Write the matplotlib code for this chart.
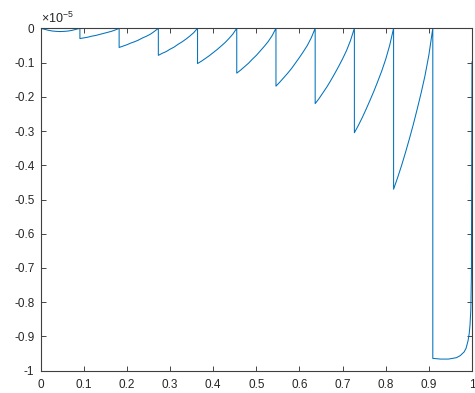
import numpy as np
import matplotlib
matplotlib.use("Agg")
import matplotlib.pyplot as plt

plt.rcParams['font.family'] = ['Liberation Sans', 'DejaVu Sans']
plt.rcParams['axes.unicode_minus'] = False
plt.rcParams['mathtext.fontset'] = 'custom'
plt.rcParams['mathtext.rm'] = 'Liberation Sans'

# error on each of the 11 sub-intervals, in units of 1e-5
knots = np.linspace(0, 1, 12)
t_std = [0, 0.1, 0.2, 0.3, 0.4, 0.5, 0.6, 0.7, 0.8, 0.9, 1.0]
t_last = [0, 0.2, 0.4, 0.6, 0.7, 0.8, 0.85, 0.9, 0.93, 0.95, 0.97, 0.985, 1.0]

seg0 = [0, -0.003, -0.006, -0.008, -0.009, -0.0095, -0.009, -0.008, -0.006, -0.003, 0]
seg1 = [-0.030, -0.028, -0.026, -0.023, -0.021, -0.018, -0.015, -0.012, -0.009, -0.005, 0]
seg2 = [-0.056, -0.052, -0.048, -0.043, -0.039, -0.034, -0.028, -0.023, -0.017, -0.009, 0]
seg3 = [-0.079, -0.073, -0.068, -0.061, -0.055, -0.047, -0.040, -0.032, -0.023, -0.013, 0]
seg4 = [-0.103, -0.096, -0.088, -0.080, -0.071, -0.062, -0.052, -0.042, -0.030, -0.017, 0]
seg5 = [-0.131, -0.122, -0.112, -0.102, -0.090, -0.079, -0.066, -0.053, -0.039, -0.022, 0]
seg6 = [-0.169, -0.157, -0.144, -0.131, -0.117, -0.101, -0.085, -0.068, -0.050, -0.028, 0]
seg7 = [-0.220, -0.205, -0.188, -0.171, -0.152, -0.132, -0.111, -0.089, -0.065, -0.036, 0]
seg8 = [-0.305, -0.284, -0.261, -0.236, -0.210, -0.183, -0.154, -0.124, -0.090, -0.050, 0]
seg9 = [-0.470, -0.437, -0.402, -0.364, -0.324, -0.282, -0.237, -0.190, -0.139, -0.078, 0]
seg10 = [-0.964, -0.966, -0.966, -0.962, -0.956, -0.945, -0.934,
         -0.912, -0.890, -0.865, -0.820, -0.720, -0.098]

segments = [seg0, seg1, seg2, seg3, seg4, seg5, seg6, seg7, seg8, seg9, seg10]

xs, ys = [], []
for k, seg in enumerate(segments):
    t = t_last if k == len(segments) - 1 else t_std
    a, b = knots[k], knots[k + 1]
    xs.extend(a + (b - a) * np.array(t))
    ys.extend(seg)

xticks = [0, 0.1, 0.2, 0.3, 0.4, 0.5, 0.6, 0.7, 0.8, 0.9, 1]
xlabels = ['0', '0.1', '0.2', '0.3', '0.4', '0.5', '0.6', '0.7', '0.8', '0.9', '1']
yticks = [-1, -0.9, -0.8, -0.7, -0.6, -0.5, -0.4, -0.3, -0.2, -0.1, 0]
ylabels = ['-1', '-0.9', '-0.8', '-0.7', '-0.6', '-0.5', '-0.4', '-0.3', '-0.2', '-0.1', '0']

fig = plt.figure(figsize=(4.75, 3.93), dpi=100)
ax = fig.add_axes([0.0857, 0.0567, 0.908, 0.8713])
ax.plot(xs, ys, color='#0072BD', lw=0.75)

ax.set_xlim(0, 1)
ax.set_ylim(-1, 0)
ax.set_xticks(xticks)
ax.set_xticklabels(xlabels)
ax.set_yticks(yticks)
ax.set_yticklabels(ylabels)
ax.tick_params(direction='in', length=3.5, width=0.6, colors='#262626',
               labelsize=8.5, top=True, right=True)
ax.tick_params(axis='x', pad=6)
ax.tick_params(axis='y', pad=4.5)
for s in ax.spines.values():
    s.set_color('#404040')
    s.set_linewidth(0.8)

ax.text(0.0, 1.008, r'$\times10^{-5}$', transform=ax.transAxes,
        ha='left', va='bottom', fontsize=9, color='#262626')

fig.savefig('out.png', dpi=100)
